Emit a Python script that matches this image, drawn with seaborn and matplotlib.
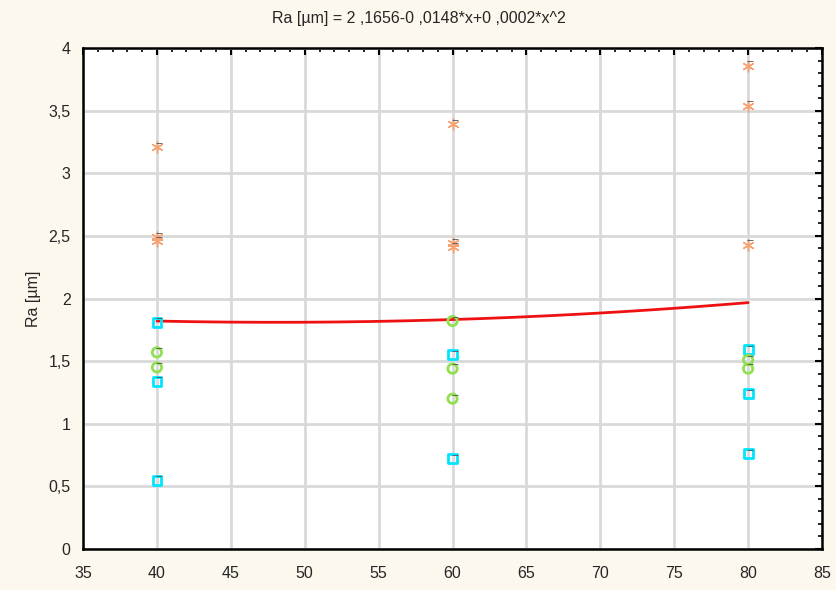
import numpy as np
import pandas as pd
import seaborn as sns
import matplotlib.pyplot as plt
from matplotlib.ticker import MultipleLocator, FuncFormatter
from matplotlib.transforms import ScaledTranslation

# speed values and Ra readings, grouped by series
star_x = [40, 40, 40, 60, 60, 60, 80, 80, 80]
star_y = [3.21, 2.49, 2.46, 3.39, 2.44, 2.41, 3.86, 3.54, 2.43]
square_x = [40, 40, 40, 60, 60, 80, 80, 80]
square_y = [1.81, 1.34, 0.55, 1.55, 0.72, 1.59, 1.24, 0.76]
circle_x = [40, 40, 60, 60, 60, 80, 80]
circle_y = [1.57, 1.45, 1.82, 1.44, 1.20, 1.51, 1.44]
# fitted quadratic (c0 + c1*x + c2*x^2) over the measured range
fit_coef = [2.1656, -0.0148, 0.000154]
fit_range = [40, 80]

sns.set_style('white')
plt.rcParams['font.family'] = ['Liberation Sans', 'DejaVu Sans']

fig = plt.figure(figsize=(8.37, 5.90), dpi=100, facecolor='#fdf8ed')
ax = fig.add_axes([0.0992, 0.0695, 0.8829, 0.8491])
ax.set_facecolor('white')

xs = np.linspace(fit_range[0], fit_range[1], 200)
ys = fit_coef[0] + fit_coef[1] * xs + fit_coef[2] * xs ** 2
sns.lineplot(x=xs, y=ys, color='#ee1111', linewidth=2, ax=ax, zorder=3)

series = [
    (star_x, star_y, (6, 2, 0), '#f7a070', 60, 1.0),
    (square_x, square_y, 's', '#00e5ff', 40, 2.0),
    (circle_x, circle_y, 'o', '#90e050', 45, 2.0),
]
for sx, sy, mk, col, size, lw in series:
    df = pd.DataFrame({'x': sx, 'y': sy})
    if mk == 's' or mk == 'o':
        ax.scatter(df['x'], df['y'], marker=mk, s=size, facecolors='none',
                   edgecolors=col, linewidths=lw, zorder=4)
    else:
        ax.scatter(df['x'], df['y'], marker=mk, s=size, color=col,
                   linewidths=lw, zorder=4)
    # small dark dash tag next to each point
    off = ax.transData + ScaledTranslation(1.5 / 72, 3 / 72, fig.dpi_scale_trans)
    ax.scatter(df['x'], df['y'], marker='_', s=14, color='#555555',
               linewidths=0.6, transform=off, zorder=5)

ax.set_xlim(35, 85)
ax.set_ylim(0, 4)
ax.xaxis.set_major_locator(MultipleLocator(5))
ax.xaxis.set_minor_locator(MultipleLocator(1))
ax.yaxis.set_major_locator(MultipleLocator(0.5))
ax.yaxis.set_minor_locator(MultipleLocator(0.1))
ax.yaxis.set_major_formatter(FuncFormatter(lambda v, p: ('%g' % v).replace('.', ',')))
ax.grid(True, which='major', color='#d9d9d9', linewidth=2)
ax.set_axisbelow(True)
ax.tick_params(which='both', direction='in', top=True, right=True,
               labelsize=11.5, color='black')
ax.tick_params(which='major', length=5, width=1.5)
ax.tick_params(which='minor', length=3, width=1.2)
ax.tick_params(axis='x', which='major', pad=12)
ax.tick_params(axis='y', which='major', pad=9)
for sp in ax.spines.values():
    sp.set_color('black')
    sp.set_linewidth(1.8)

ax.set_xlabel('')
ax.set_ylabel('Ra [µm]', fontsize=11.5, labelpad=5)
fig.text(0.5, 0.968, 'Ra [µm] = 2 ,1656-0 ,0148*x+0 ,0002*x^2',
         ha='center', va='center', fontsize=11.5)

fig.savefig('out.png', dpi=100, facecolor=fig.get_facecolor())
